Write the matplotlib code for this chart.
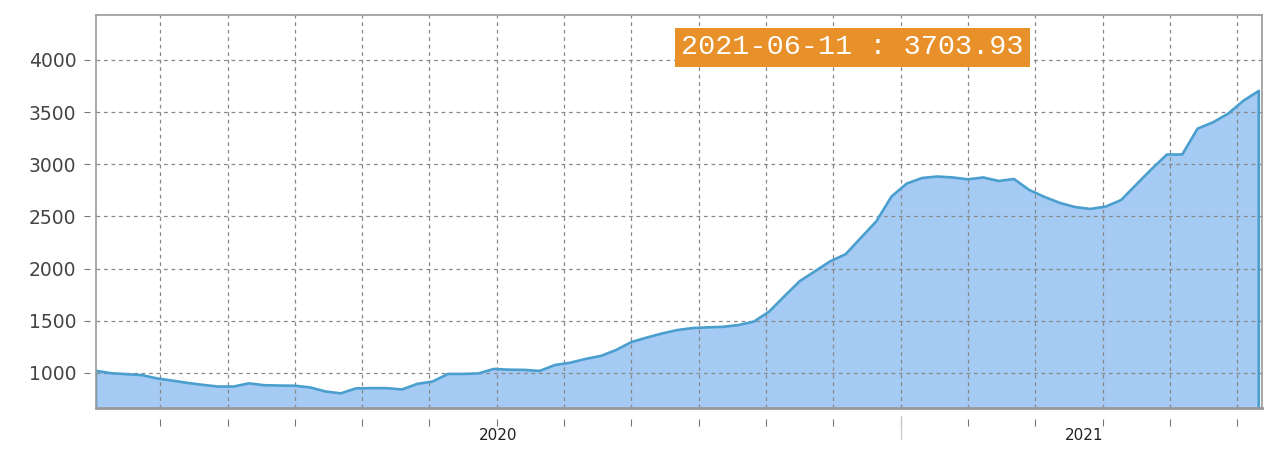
import numpy as np
import matplotlib
matplotlib.use("Agg")
import matplotlib.pyplot as plt
import matplotlib.transforms as mtransforms

# valores da serie (um ponto por amostra, ultimo = 2021-06-11)
valores = [1020, 997, 988, 979, 947, 926, 904, 885, 869, 870,
           900, 882, 879, 877, 861, 822, 804, 852, 854, 854,
           841, 895, 917, 990, 990, 995, 1038, 1031, 1029, 1019,
           1076, 1098, 1134, 1163, 1220, 1296, 1339, 1378, 1411, 1430,
           1437, 1442, 1459, 1492, 1588, 1736, 1880, 1975, 2071, 2138,
           2296, 2453, 2692, 2816, 2869, 2883, 2874, 2856, 2874, 2840,
           2859, 2754, 2687, 2630, 2590, 2572, 2595, 2657, 2807, 2955,
           3094, 3094, 3342, 3402, 3486, 3610, 3703.93]
ultima_data = "2021-06-11"
anos = ["2020", "2021"]
pos_anos = [26.3, 64.6]
y_ticks = [1000, 1500, 2000, 2500, 3000, 3500, 4000]

x = np.arange(len(valores))
y_min, y_max = 664, 4431

fig = plt.figure(figsize=(12.88, 4.70), dpi=100)
ax = fig.add_axes([0.0745, 0.132, 0.9053, 0.836])

# area + linha (desce ate a base nas duas pontas)
ax.fill_between(x, valores, y_min, color="#a5caf3", lw=0)
xl = np.concatenate([[x[0]], x, [x[-1]]])
yl = np.concatenate([[y_min], valores, [y_min]])
ax.plot(xl, yl, color="#4a9fcf", lw=1.9, solid_joinstyle="round")

ax.set_xlim(0, len(valores) - 1 + 0.21)
ax.set_ylim(y_min, y_max)

# grade tracejada
x_grid = np.arange(4.2, 76, 4.4)
ax.set_xticks(x_grid)
ax.set_yticks(y_ticks)
ax.grid(True, color="#888888", ls=(0, (3, 3)), lw=0.9)
ax.tick_params(axis="x", bottom=False, labelbottom=False)
ax.tick_params(axis="y", left=False, labelleft=False, right=True,
               direction="in", length=3, color="#888888")

for s in ax.spines.values():
    s.set_color("#999999")
    s.set_linewidth(1.2)
ax.spines["bottom"].set_linewidth(2)

# eixo y deslocado
sy = ax.secondary_yaxis(-0.005)
sy.set_yticks(y_ticks)
sy.spines["left"].set_visible(False)
sy.tick_params(length=4, color="#777777", labelsize=13.5, labelcolor="#444444", pad=6)

# eixo x deslocado
sx = ax.secondary_xaxis(-0.028)
sx.set_xticks(x_grid)
sx.spines["bottom"].set_visible(False)
sx.tick_params(length=5, color="#777777", labelbottom=False)

trans = mtransforms.blended_transform_factory(ax.transData, ax.transAxes)
for a, p in zip(anos, pos_anos):
    ax.text(p, -0.07, a, transform=trans, ha="center", va="center",
            fontsize=11, color="#222222")
ax.plot([52.6, 52.6], [-0.02, -0.08], transform=trans, color="#cccccc",
        lw=1, clip_on=False)

# caixa do ultimo valor
ax.text(0.649, 0.918, f"{ultima_data} : {valores[-1]:.2f}", transform=ax.transAxes,
        ha="center", va="center", fontsize=20.5, color="white", family="Liberation Mono",
        bbox=dict(boxstyle="square,pad=0.22", fc="#e8912a", ec="none"))

plt.savefig("out.png", dpi=100)
